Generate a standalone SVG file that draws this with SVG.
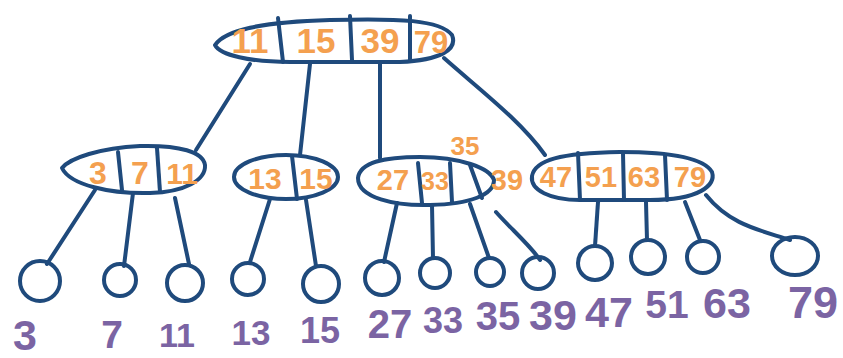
<svg xmlns="http://www.w3.org/2000/svg" width="843" height="358" viewBox="0 0 843 358">
<style>
.n{fill:none;stroke:#1f4a7c;stroke-width:4;stroke-linecap:round;stroke-linejoin:round}
.k{fill:#f4a04f;stroke:none;font-family:"Liberation Sans",Arial,sans-serif;font-weight:bold;text-anchor:middle}
.l{fill:#7b64a3;stroke:none;font-family:"Liberation Sans",Arial,sans-serif;font-weight:bold;text-anchor:middle}
</style>
<rect width="843" height="358" fill="#fff"/>
<g id="connectors" class="n">
<path d="M250 64 L196 150"/>
<path d="M310 64 L300 155"/>
<path d="M380 63 L380 158"/>
<path d="M444 58 C480 90,520 120,545 155"/>
<path d="M95 190 L47 264"/>
<path d="M133 193 L124 266"/>
<path d="M175 198 L189 264"/>
<path d="M270 199 L250 262"/>
<path d="M306 200 L316 266"/>
<path d="M397 203 L384 262"/>
<path d="M432 205 L433 258"/>
<path d="M470 204 L489 258"/>
<path d="M496 212 C510 228,530 245,540 260"/>
<path d="M598 202 L595 246"/>
<path d="M646 202 L647 240"/>
<path d="M685 202 L700 240"/>
<path d="M706 195 C730 225,760 230,790 240"/>
</g>
<g id="root" class="n">
<path d="M215 45 C225 30,260 22,330 20 C400 18,440 20,452 35 C458 50,440 60,400 62 L290 62 C250 62,220 55,215 45 Z"/>
<path d="M278 18 L283 62"/><path d="M350 16 L352 60"/><path d="M410 16 L410 60"/>
<text class="k" x="250" y="53" font-size="35">11</text>
<text class="k" x="316" y="53" font-size="35">15</text>
<text class="k" x="380" y="53" font-size="35">39</text>
<text class="k" x="431" y="53" font-size="31">79</text>
</g>
<g id="n1" class="n">
<path d="M62 168 C70 158,100 148,140 146 C180 145,203 152,205 165 C206 180,185 192,150 193 C110 194,70 185,62 168 Z"/>
<path d="M118 152 L122 190"/><path d="M157 148 L160 192"/>
<text class="k" x="98" y="184" font-size="32">3</text>
<text class="k" x="140" y="184" font-size="32">7</text>
<text class="k" x="182" y="184" font-size="30">11</text>
</g>
<g id="n2" class="n">
<ellipse cx="286" cy="177" rx="52" ry="22"/>
<path d="M292 156 L297 199"/>
<text class="k" x="265" y="189" font-size="30">13</text>
<text class="k" x="316" y="189" font-size="30">15</text>
</g>
<g id="n3" class="n">
<path d="M358 178 C360 162,385 157,420 157 C460 157,490 168,494 180 C494 195,470 204,430 205 C395 206,358 198,358 178 Z"/>
<path d="M418 163 L422 203"/><path d="M450 163 L452 202"/><path d="M470 165 L482 198"/>
<text class="k" x="465" y="155" font-size="26">35</text>
<text class="k" x="393" y="190" font-size="29">27</text>
<text class="k" x="435" y="190" font-size="25">33</text>
<text class="k" x="507" y="190" font-size="29">39</text>
</g>
<g id="n4" class="n">
<path d="M532 176 C535 160,560 153,620 152 C680 152,705 160,712 172 C716 185,700 200,650 200 L580 200 C550 200,530 190,532 176 Z"/>
<path d="M578 153 L580 200"/><path d="M623 153 L624 200"/><path d="M665 155 L667 200"/>
<text class="k" x="556" y="187" font-size="29">47</text>
<text class="k" x="601" y="187" font-size="29">51</text>
<text class="k" x="644" y="187" font-size="29">63</text>
<text class="k" x="690" y="187" font-size="29">79</text>
</g>
<g id="leaves" class="n">
<circle cx="40" cy="281" r="20"/>
<circle cx="120" cy="280" r="16"/>
<circle cx="185" cy="283" r="18"/>
<circle cx="248" cy="279" r="16"/>
<circle cx="321" cy="284" r="18"/>
<circle cx="382" cy="278" r="17"/>
<circle cx="435" cy="273" r="15"/>
<circle cx="490" cy="272" r="14"/>
<circle cx="538" cy="273" r="16"/>
<circle cx="595" cy="263" r="17"/>
<circle cx="648" cy="257" r="17"/>
<circle cx="703" cy="257" r="16"/>
<ellipse cx="795" cy="256" rx="23" ry="19"/>
</g>
<g id="labels">
<text class="l" x="25" y="350" font-size="43">3</text>
<text class="l" x="112" y="348" font-size="39">7</text>
<text class="l" x="177" y="347" font-size="34">11</text>
<text class="l" x="251" y="345" font-size="35">13</text>
<text class="l" x="320" y="343" font-size="36">15</text>
<text class="l" x="390" y="338" font-size="40">27</text>
<text class="l" x="443" y="333" font-size="36">33</text>
<text class="l" x="498" y="330" font-size="40">35</text>
<text class="l" x="553" y="330" font-size="43">39</text>
<text class="l" x="609" y="327" font-size="43">47</text>
<text class="l" x="667" y="318" font-size="39">51</text>
<text class="l" x="727" y="318" font-size="43">63</text>
<text class="l" x="813" y="318" font-size="45">79</text>
</g>
</svg>
